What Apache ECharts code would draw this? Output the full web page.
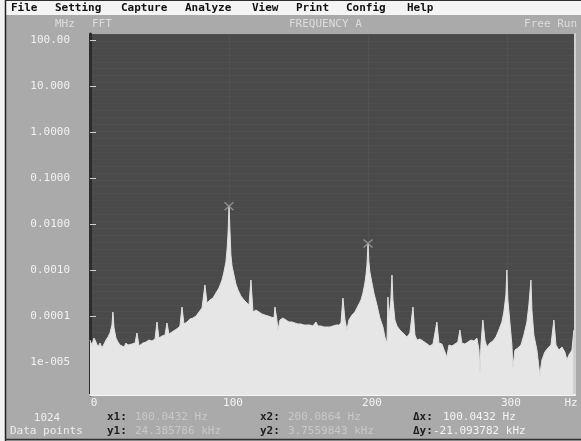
<!DOCTYPE html>
<html><head><meta charset="utf-8">
<script src="https://cdn.jsdelivr.net/npm/echarts@6/dist/echarts.min.js"></script>
<style>html,body{margin:0;padding:0;background:#ececec;}#c{width:581px;height:441px;}</style>
</head><body><div id="c"></div>
<script>
// Spectrum (frequency in Hz, amplitude in MHz units shown on the log axis)
const freqHz = [0,1.4,2.9,4.3,5.8,7.2,8.6,10.1,11.5,12.9,14.4,15.8,16.5,17.3,18.7,20.1,21.6,23.0,24.5,25.9,27.3,30.2,32.4,33.8,35.3,36.7,38.1,40.3,42.4,44.6,46.8,48.2,49.6,51.8,54.0,55.4,56.8,59.0,61.2,63.3,64.7,66.2,67.6,69.8,71.9,74.1,76.3,78.4,80.6,82.7,84.2,86.3,88.5,90.6,92.8,95.0,96.4,97.8,98.6,99.3,100.0432,100.7,101.4,102.2,103.6,105.0,106.5,108.6,110.8,112.9,114.4,115.8,117.3,119.4,121.6,123.7,125.9,128.1,130.2,132.4,133.1,134.5,135.3,136.7,138.8,141.0,143.2,145.3,147.5,149.6,151.8,154.0,156.1,158.3,160.4,162.6,164.0,166.2,168.3,170.5,172.7,174.8,177.0,179.1,180.6,182.0,183.5,184.9,186.3,188.5,190.6,192.8,195.0,196.4,197.8,198.6,199.3,200.0864,200.7,201.4,202.9,204.3,206.5,208.6,210.8,212.2,213.7,214.4,215.1,216.5,217.3,218.0,219.4,220.9,223.0,225.2,228.1,230.2,232.4,233.8,235.3,237.4,239.6,241.7,244.6,246.8,249.6,251.1,253.2,255.4,256.8,258.3,260.4,262.6,264.7,266.2,267.6,269.8,271.9,274.1,276.3,278.4,279.9,280.6,281.3,282.7,284.2,285.6,287.8,289.9,292.1,294.2,296.4,297.8,299.3,300.0,300.7,302.2,303.6,304.3,305.8,307.9,310.1,312.2,314.4,315.8,317.3,318.0,319.4,321.6,323.7,325.2,327.3,329.5,331.7,333.8,335.3,337.4,339.6,341.7,343.2,344.6,346.8,348.2];
const amplitudeMHz = [3.0e-5,2.34e-5,3.32e-5,2.72e-5,2.12e-5,2.59e-5,2.02e-5,2.46e-5,3.0e-5,3.49e-5,4.27e-5,6.37e-5,1.22e-4,5.48e-5,3.32e-5,2.72e-5,2.34e-5,2.46e-5,2.12e-5,2.59e-5,2.34e-5,2.46e-5,2.59e-5,4.27e-5,2.23e-5,2.02e-5,2.59e-5,2.72e-5,3.0e-5,2.86e-5,3.16e-5,7.41e-5,3.32e-5,3.67e-5,3.86e-5,7.05e-5,4.06e-5,4.49e-5,4.96e-5,5.48e-5,6.06e-5,1.57e-4,6.70e-5,7.41e-5,8.6e-5,9.05e-5,1.0e-4,1.22e-4,1.49e-4,4.72e-4,1.92e-4,2.23e-4,2.46e-4,3.16e-4,4.06e-4,6.06e-4,9.05e-4,1.49e-3,2.72e-3,5.77e-3,0.024385786,7.41e-3,2.12e-3,1.22e-3,7.78e-4,4.96e-4,3.67e-4,2.72e-4,2.23e-4,1.92e-4,1.73e-4,6.06e-4,1.22e-4,1.35e-4,1.22e-4,1.11e-4,1.05e-4,1.0e-4,9.5e-5,9.05e-5,1.57e-4,8.19e-5,4.96e-5,8.19e-5,9.05e-5,8.19e-5,7.41e-5,7.41e-5,7.05e-5,6.70e-5,6.70e-5,6.37e-5,6.37e-5,6.37e-5,6.06e-5,7.41e-5,6.06e-5,6.06e-5,5.77e-5,5.77e-5,5.77e-5,6.06e-5,6.37e-5,6.37e-5,7.05e-5,2.46e-4,8.19e-5,4.96e-5,8.19e-5,1.05e-4,1.22e-4,1.65e-4,2.23e-4,3.16e-4,5.21e-4,7.78e-4,1.28e-3,3.7559843e-3,1.49e-3,9.05e-4,5.21e-4,3.16e-4,1.73e-4,9.05e-5,5.77e-5,3.49e-5,2.59e-5,2.59e-4,9.05e-5,2.23e-4,7.78e-4,2.23e-4,8.19e-5,6.06e-5,4.96e-5,4.27e-5,3.49e-5,4.27e-5,1.57e-4,3.86e-5,3.0e-5,3.16e-5,2.86e-5,2.59e-5,2.23e-5,2.46e-5,7.41e-5,2.59e-5,2.46e-5,1.65e-5,1.28e-5,2.34e-5,2.23e-5,2.46e-5,2.72e-5,4.96e-5,2.59e-5,2.46e-5,2.72e-5,3.0e-5,2.86e-5,3.32e-5,1.82e-5,5.77e-6,2.34e-5,8.19e-5,3.0e-5,2.12e-5,2.59e-5,2.86e-5,3.49e-5,4.96e-5,7.41e-5,1.22e-4,2.86e-4,1.0e-3,2.23e-4,7.05e-5,2.34e-5,7.41e-6,1.82e-5,2.02e-5,2.34e-5,3.86e-5,7.41e-5,1.73e-4,6.06e-4,1.35e-4,3.86e-5,1.82e-5,5.21e-6,1.11e-5,1.65e-5,2.02e-5,2.34e-5,8.19e-5,2.34e-5,1.82e-5,2.12e-5,1.65e-5,1.11e-5,1.42e-5,1.82e-5,4.96e-5];
const cursorHz = [100.0432, 200.0864];
const cursorMHz = [0.024385786, 0.0037559843];
const yTickValues = [1e-5, 1e-4, 1e-3, 1e-2, 1e-1, 1, 10, 100];
const yTickLabels = ['1e-005', '0.0001', '0.0010', '0.0100', '0.1000', '1.0000', '10.000', '100.00'];
const xTickValues = [0, 100, 200, 300];
const menuItems = ['File', 'Setting', 'Capture', 'Analyze', 'View', 'Print', 'Config', 'Help'];

const MONO = '"DejaVu Sans Mono", "Liberation Mono", monospace';
const chart = echarts.init(document.getElementById('c'), null, {renderer: 'canvas'});

const yLog = yTickValues.map(v => Math.log10(v));
const series = [
  {
    type: 'line', xAxisIndex: 0, yAxisIndex: 0,
    data: freqHz.map((f, i) => [f, Math.log10(amplitudeMHz[i])]),
    showSymbol: false, symbol: 'none', animation: false,
    lineStyle: {color: '#e2e2e2', width: 1},
    areaStyle: {color: '#e6e6e6', origin: 'start', opacity: 1},
    z: 3
  },
  {
    type: 'scatter', xAxisIndex: 0, yAxisIndex: 0, animation: false,
    data: cursorHz.map((f, i) => [f, Math.log10(cursorMHz[i])]),
    symbol: 'path://M0,0L8,7M8,0L0,7', symbolSize: [9, 8],
    itemStyle: {color: 'none', borderColor: '#9a9a9a', borderWidth: 1.5},
    z: 5
  }
];

const g = [];
g.push({type: 'rect', shape: {x: 0, y: 0, width: 5, height: 441}, style: {fill: '#f2f2f2'}});
g.push({type: 'rect', shape: {x: 5, y: 0, width: 576, height: 15}, style: {fill: '#f4f4f4'}});
g.push({type: 'line', shape: {x1: 5.5, y1: 0, x2: 5.5, y2: 441}, style: {stroke: '#202020', lineWidth: 1.5}});
g.push({type: 'line', shape: {x1: 5, y1: 439.5, x2: 581, y2: 439.5}, style: {stroke: '#303030', lineWidth: 1.5}});
g.push({type: 'line', shape: {x1: 5, y1: 0.5, x2: 581, y2: 0.5}, style: {stroke: '#303030', lineWidth: 1}});
const menuX = [11, 55, 121, 185, 252, 296, 346, 407];
menuItems.forEach((m, i) => {
  g.push({type: 'text', x: menuX[i], y: 8, style: {text: m, fill: '#111', font: 'bold 11px ' + MONO, verticalAlign: 'middle'}});
});
const txt = (t, x, y, fill, bold, align) => g.push({type: 'text', x, y, z: 10,
  style: {text: t, fill, font: (bold ? 'bold ' : '') + '11px ' + MONO, verticalAlign: 'middle', align: align || 'left'}});
txt('MHz', 55, 24, '#dcdcdc');
txt('FFT', 92, 24, '#dcdcdc');
txt('FREQUENCY A', 289, 24, '#dcdcdc');
txt('Free Run', 577, 24, '#dcdcdc', false, 'right');
txt('Hz', 571, 403, '#f2f2f2', false, 'center');
txt('1024', 47, 418, '#eeeeee', false, 'center');
txt('Data points', 10, 431, '#eeeeee');
txt('x1:', 107, 417, '#1e1e1e', true);
txt('100.0432 Hz', 135, 417, '#c8c8c8');
txt('y1:', 107, 431, '#1e1e1e', true);
txt('24.385786 kHz', 135, 431, '#c8c8c8');
txt('x2:', 260, 417, '#1e1e1e', true);
txt('200.0864 Hz', 288, 417, '#c8c8c8');
txt('y2:', 260, 431, '#1e1e1e', true);
txt('3.7559843 kHz', 288, 431, '#c8c8c8');
txt('Δx:', 413, 417, '#1e1e1e', true);
txt('100.0432 Hz', 443, 417, '#f4f4f4');
txt('Δy:', 413, 431, '#1e1e1e', true);
txt('-21.093782 kHz', 433, 431, '#f4f4f4');

chart.setOption({
  animation: false,
  backgroundColor: '#aaaaaa',
  grid: {left: 90, right: 6, top: 34, bottom: 46, show: true, backgroundColor: '#4a4a4a', borderWidth: 0, containLabel: false},
  xAxis: {
    type: 'value', min: 0, max: 349,
    axisLine: {show: true, onZero: false, lineStyle: {color: '#f4f4f4', width: 2}},
    axisTick: {show: false, customValues: xTickValues},
    axisLabel: {customValues: xTickValues, color: '#f4f4f4', margin: 3, padding: [0, 0, 0, 8], fontFamily: MONO, fontSize: 11},
    splitLine: {show: true, lineStyle: {color: '#525252', width: 1}}
  },
  yAxis: [
    {
      type: 'value', min: -5.717, max: 2.13, position: 'left',
      axisLine: {show: true, onZero: false, lineStyle: {color: '#2c2c2c', width: 3}},
      axisTick: {show: true, inside: true, length: 6, customValues: yLog, lineStyle: {color: '#d0d0d0', width: 1}},
      axisLabel: {customValues: yLog, color: '#f2f2f2', margin: 20, fontFamily: MONO, fontSize: 11,
        formatter: v => yTickLabels[Math.round(v) + 5]},
      splitLine: {show: false}
    },
    {
      type: 'value', min: 0, max: 52, interval: 1, position: 'right',
      axisLine: {show: true, onZero: false, lineStyle: {color: '#cfcfcf', width: 2}},
      axisTick: {show: false}, axisLabel: {show: false},
      splitLine: {show: true, lineStyle: {color: '#4f4f4f', width: 1}}
    }
  ],
  series: series,
  graphic: g
});
</script></body></html>
